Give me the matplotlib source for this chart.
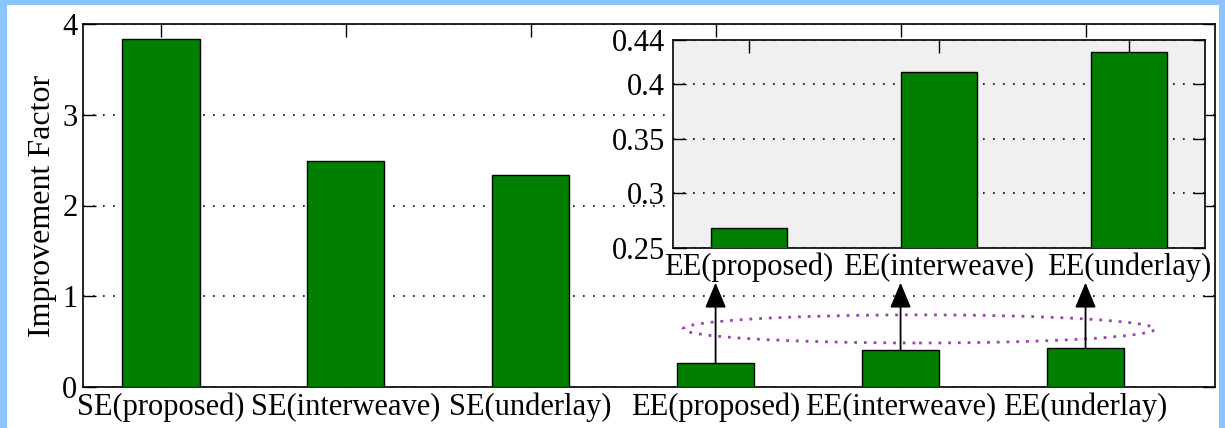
import matplotlib.pyplot as plt
from matplotlib.patches import Rectangle, Ellipse

plt.rcParams['font.family'] = ['Liberation Serif', 'DejaVu Serif']

# main chart: spectral / energy efficiency improvement factors
labels = ['SE(proposed)', 'SE(interweave)', 'SE(underlay)',
          'EE(proposed)', 'EE(interweave)', 'EE(underlay)']
values = [3.83, 2.49, 2.34, 0.268, 0.411, 0.429]

# zoomed view of the EE bars
ee_labels = labels[3:]
ee_values = values[3:]
ee_yticks = [0.25, 0.3, 0.35, 0.4, 0.44]
ee_yticklabels = ['0.25', '0.3', '0.35', '0.4', '0.44']

bar_green = '#007F00'
fs = 22

fig = plt.figure(figsize=(12.25, 4.28), dpi=100)
fig.patch.set_facecolor('#8CC4FF')
fig.add_artist(Rectangle((7 / 1225, 0), 1212 / 1225, 423 / 428,
                         transform=fig.transFigure, facecolor='white',
                         edgecolor='none', zorder=-10))

ax = fig.add_axes([83 / 1225, 41 / 428, 1132 / 1225, 363 / 428])
x = list(range(len(labels)))
ax.bar(x, values, width=0.42, color=bar_green, edgecolor='black', linewidth=1, zorder=3)
ax.set_xlim(-0.42, 5.7)
ax.set_ylim(0, 4)
ax.set_yticks([0, 1, 2, 3, 4])
ax.set_xticks(x)
ax.set_xticklabels(labels, fontsize=fs)
ax.set_ylabel('Improvement Factor', fontsize=fs + 1, labelpad=4)
ax.tick_params(axis='both', direction='in', length=9, width=1, labelsize=fs,
               top=True, right=True, pad=4)
ax.grid(axis='y', color='black', linestyle=(0, (1, 5)), linewidth=1.2)
ax.set_axisbelow(True)
for s in ax.spines.values():
    s.set_linewidth(1.2)

# arrows from the small EE bars up to the zoomed view
for xi, v in zip(x[3:], values[3:]):
    ax.annotate('', xy=(xi, 1.15), xytext=(xi, v),
                arrowprops=dict(arrowstyle='-|>,head_length=0.6,head_width=0.25',
                                color='black', lw=1.3,
                                mutation_scale=26, shrinkA=0, shrinkB=0),
                zorder=4)

ax.add_patch(Ellipse((4.1, 0.64), 2.55, 0.31, fill=False, edgecolor='#A040B0',
                     linestyle=(0, (1, 2.5)), linewidth=2, zorder=2))

# inset
ins = fig.add_axes([673 / 1225, 180 / 428, 532 / 1225, 208 / 428])
ins.set_facecolor('#F0F0F0')
xi = list(range(len(ee_labels)))
ins.bar(xi, ee_values, width=0.4, color=bar_green, edgecolor='black', linewidth=1, zorder=3)
ins.set_xlim(-0.4, 2.4)
ins.set_ylim(0.25, 0.44)
ins.set_yticks(ee_yticks)
ins.set_yticklabels(ee_yticklabels)
ins.set_xticks(xi)
ins.set_xticklabels(ee_labels, fontsize=fs)
ins.tick_params(axis='both', direction='in', length=9, width=1, labelsize=fs,
                top=True, right=True, pad=3)
ins.tick_params(axis='y', pad=6)
ins.grid(axis='y', color='black', linestyle=(0, (1, 5)), linewidth=1.2)
ins.set_axisbelow(True)
for s in ins.spines.values():
    s.set_linewidth(1.2)

fig.savefig('out.png', dpi=100, facecolor=fig.get_facecolor())
